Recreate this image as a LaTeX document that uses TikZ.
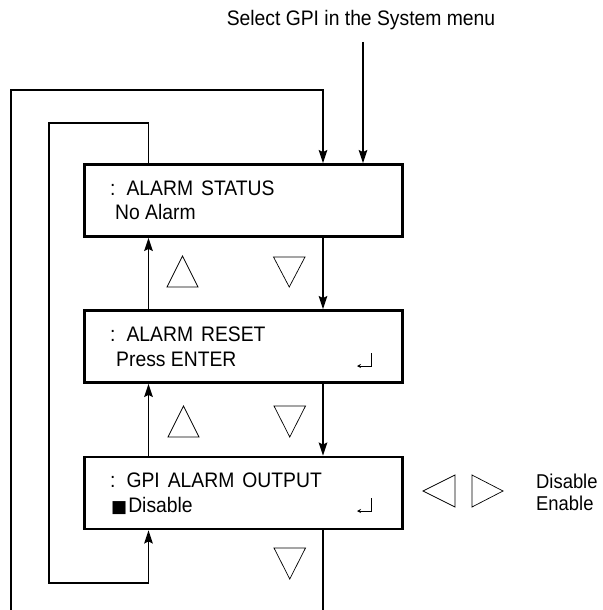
\documentclass[tikz,border=0pt]{standalone}
\usepackage{fontspec}
\setmainfont{Liberation Sans}[FakeStretch=0.92]
\newfontfamily\symfont{DejaVu Sans}
\usetikzlibrary{arrows.meta}
\begin{document}
\begin{tikzpicture}[x=1pt,y=-1pt,
  menubox/.style={draw,line width=2.8pt,minimum width=318pt,minimum height=72pt,inner sep=0pt},
  txt/.style={inner sep=0pt,anchor=base west,font=\fontsize{21pt}{25pt}\selectfont},
  wire/.style={line width=1.8pt},
  arr/.style={wire,-{Stealth[length=13pt,width=8.5pt,inset=2pt]}},
  keytri/.style={line width=0.7pt,line join=miter},
  enterkey/.style={line width=1pt,-{Stealth[length=4pt,width=4pt]}}]
\useasboundingbox (0,0) rectangle (602,610);
% boxes
\node[menubox] (b1) at (243.5,200.5) {};
\node[menubox] (b2) at (243.5,346.5) {};
\node[menubox] (b3) at (243.5,493) {};
% texts
\node[txt,anchor=base] (sel) at (361,26) {Select GPI in the System menu};
\node[txt] (b1a) at (110,195) {:\hspace{11pt}ALARM\hspace{8pt}STATUS};
\node[txt] (b1b) at (115,219.5) {No Alarm};
\node[txt] (b2a) at (110,341) {:\hspace{11pt}ALARM\hspace{8pt}RESET};
\node[txt] (b2b) at (116,366) {Press ENTER};
\node[txt] (b3a) at (110,487) {:\hspace{11pt}GPI\hspace{8pt}ALARM\hspace{8pt}OUTPUT};
\node[txt] (b3b) at (111,512) {{\symfont\fontsize{17pt}{17pt}\selectfont ■}\hspace{1pt}Disable};
\node[txt,font=\fontsize{20pt}{24pt}\selectfont] (opt1) at (536,488) {Disable};
\node[txt,font=\fontsize{20pt}{24pt}\selectfont] (opt2) at (536,510) {Enable};
% column coordinates
\coordinate (xr) at (323,0);
\coordinate (xl) at (148.5,0);
\coordinate (es) at (363,42);
% entry arrow
\draw[arr] (es) -- (b1.north -| es);
% down arrows
\draw[arr] (b1.south -| xr) -- (b2.north -| xr);
\draw[arr] (b2.south -| xr) -- (b3.north -| xr);
% up arrows
\draw[arr] (b2.north -| xl) -- (b1.south -| xl);
\draw[arr] (b3.north -| xl) -- (b2.south -| xl);
% outer loop
\coordinate (ob) at (323,610);
\coordinate (ol) at (11,610);
\coordinate (ot) at (11,90);
\draw[wire] (b3.south -| xr) -- (ob);
\draw[arr] (ol) -- (ot) -| (b1.north -| xr);
% inner loop
\coordinate (i1) at (148.5,123);
\coordinate (i2) at (49,123);
\coordinate (i3) at (49,583);
\coordinate (i4) at (148.5,583);
\draw[arr] (b1.north -| xl) -- (i1) -- (i2) -- (i3) -- (i4) -- (b3.south -| xl);
% key triangles
\draw[keytri] (182.5,256) -- (167,287) -- (198,287) -- cycle;
\draw[keytri] (273.5,257) -- (305,257) -- (289.25,287) -- cycle;
\draw[keytri] (183.5,406) -- (168,437) -- (199,437) -- cycle;
\draw[keytri] (274,406) -- (305.5,406) -- (289.75,437) -- cycle;
\draw[keytri] (274,548) -- (305.5,548) -- (289.75,579) -- cycle;
\draw[keytri] (423,491) -- (455,475) -- (455,507) -- cycle;
\draw[keytri] (503,491) -- (472,475) -- (472,507) -- cycle;
% enter keys
\coordinate (e2a) at (371,353);
\coordinate (e2b) at (371,366);
\coordinate (e2c) at (357,366);
\draw[enterkey] (e2a) -- (e2b) -- (e2c);
\coordinate (e3a) at (371,498);
\coordinate (e3b) at (371,511);
\coordinate (e3c) at (357,511);
\draw[enterkey] (e3a) -- (e3b) -- (e3c);
\end{tikzpicture}
\end{document}
